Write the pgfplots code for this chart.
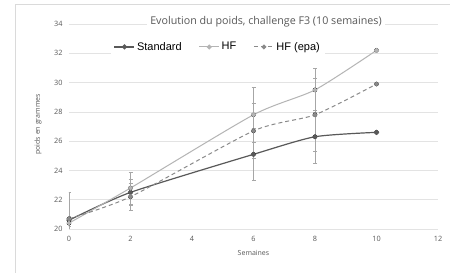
\documentclass[border=0pt]{standalone}
\usepackage{pgfplots}
\pgfplotsset{compat=1.18}
\usepackage{pgfplotstable}
\usepackage{fontspec}
\setmainfont{Open Sans}
\newfontfamily\arialf{Liberation Sans}
\definecolor{cstd}{HTML}{595959}
\definecolor{chf}{HTML}{B4B4B4}
\definecolor{cepa}{HTML}{8A8A8A}
\definecolor{cerr}{HTML}{A6A6A6}
\definecolor{cgrid}{HTML}{E3E3E3}
\definecolor{ctxt}{HTML}{595959}
\definecolor{cborder}{HTML}{DADADA}

\pgfplotstableread{
x y e
0 20.6 0.3
2 22.5 0.9
6 25.1 1.8
8 26.3 1.8
10 26.6 0
}\tstd
\pgfplotstableread{
x y e
0 20.4 0.2
2 22.8 1.1
6 27.8 1.9
8 29.5 1.5
10 32.2 0
}\thf
\pgfplotstableread{
x y e
0 20.7 1.8
2 22.2 0.9
6 26.7 1.9
8 27.8 2.5
10 29.9 0
}\tepa

\begin{document}
\begin{tikzpicture}[x=1pt,y=1pt]
\path[use as bounding box, fill=white] (0,0) rectangle (450,273);
\draw[cborder, line width=0.7pt] (15,0) -- (15,269) -- (450,269);
\begin{axis}[
  at={(69pt,44pt)}, anchor=south west,
  scale only axis, width=369pt, height=205pt,
  xmin=0, xmax=12, ymin=20, ymax=34,
  xtick={0,2,...,12}, ytick={20,22,...,34},
  axis line style={draw=none},
  major tick length=0pt,
  ymajorgrids, grid style={cgrid, line width=0.7pt},
  /pgf/number format/assume math mode=true,
  ticklabel style={font=\fontsize{7.3}{8}\selectfont, text=ctxt},
  yticklabel style={xshift=-3pt},
  xticklabel style={yshift=-4pt},
  xlabel={Semaines}, ylabel={poids en grammes},
  label style={font=\fontsize{7}{8}\selectfont, text=ctxt},
  xlabel style={at={(axis description cs:0.5,-0.115)}, anchor=center},
  ylabel style={at={(axis description cs:-0.084,0.51)}, anchor=center, rotate=0},
  legend columns=3,
  legend style={at={(axis description cs:0.113,0.888)}, anchor=west,
    fill=white, draw=none, font=\arialf\fontsize{11}{13}\selectfont,
    /tikz/every even column/.append style={column sep=15pt},
    inner xsep=3pt, inner ysep=3pt},
  legend image code/.code={\draw[mark repeat=2,mark phase=2,#1] plot coordinates {(0pt,0pt)(10pt,0pt)(20pt,0pt)};},
  clip=true,
]
% error bars
\addplot[only marks, mark=none, forget plot,
  error bars/.cd, y dir=both, y explicit,
  error bar style={solid, cerr, line width=0.7pt},
  error mark options={rotate=90, mark size=2pt, cerr, line width=0.6pt, solid}]
  table[x=x, y=y, y error=e] {\tstd};
\addplot[only marks, mark=none, forget plot,
  error bars/.cd, y dir=both, y explicit,
  error bar style={solid, cerr, line width=0.7pt},
  error mark options={rotate=90, mark size=2pt, cerr, line width=0.6pt, solid}]
  table[x=x, y=y, y error=e] {\thf};
\addplot[only marks, mark=none, forget plot,
  error bars/.cd, y dir=both, y explicit,
  error bar style={solid, cerr, line width=0.7pt},
  error mark options={rotate=90, mark size=2pt, cerr, line width=0.6pt, solid}]
  table[x=x, y=y, y error=e] {\tepa};
% lines
\addplot[cstd, line width=1.2pt, smooth, tension=0.4, mark=*, mark size=1.9pt,
  mark options={solid, fill=cstd, draw=cstd}] table[x=x,y=y] {\tstd};
\addlegendentry{Standard}
\addplot[chf, line width=1.0pt, smooth, tension=0.4, mark=*, mark size=1.9pt,
  mark options={solid, fill=chf, draw=chf}] table[x=x,y=y] {\thf};
\addlegendentry{HF\hspace{27pt}}
\addplot[cepa, line width=1.0pt, dashed, dash pattern=on 4pt off 3pt, smooth, tension=0.4, mark=*, mark size=1.9pt,
  mark options={solid, fill=cepa, draw=cepa}] table[x=x,y=y] {\tepa};
\addlegendentry{HF (epa)}
\end{axis}
\node[fill=white, inner xsep=3pt, inner ysep=1pt, text=ctxt, font=\fontsize{10.7}{12}\selectfont] at (266,251) {Evolution du poids, challenge F3 (10 semaines)};
\end{tikzpicture}
\end{document}
